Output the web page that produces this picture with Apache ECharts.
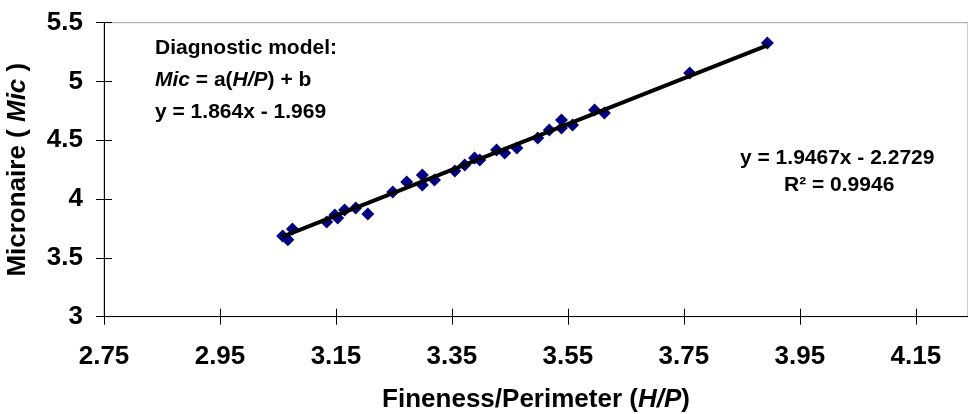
<!DOCTYPE html>
<html>
<head>
<meta charset="utf-8">
<script src="https://cdn.jsdelivr.net/npm/echarts@6/dist/echarts.min.js"></script>
<style>html,body{margin:0;padding:0;background:#fff;}#c{width:968px;height:414px;}</style>
</head>
<body>
<div id="c"></div>
<script>
// Fineness/Perimeter (H/P) values
const hp = [3.058,3.067,3.075,3.134,3.148,3.153,3.165,3.184,3.205,3.248,3.272,3.299,3.299,3.320,3.355,3.372,3.389,3.398,3.427,3.441,3.462,3.498,3.518,3.539,3.539,3.558,3.596,3.613,3.760,3.894];
// Micronaire values
const mic = [3.686,3.655,3.746,3.805,3.865,3.840,3.907,3.925,3.873,4.060,4.145,4.205,4.120,4.162,4.239,4.290,4.350,4.333,4.418,4.392,4.435,4.520,4.588,4.673,4.605,4.631,4.758,4.732,5.072,5.327];
// Trendline coefficients (displayed fit)
const slope = 1.9467;
const intercept = -2.2729;
// Tick labels
const xTicks = [2.75,2.95,3.15,3.35,3.55,3.75,3.95,4.15];
const yTicks = [3,3.5,4,4.5,5,5.5];

const points = hp.map((x,i)=>[x,mic[i]]);
const xMinD = Math.min(...hp), xMaxD = Math.max(...hp);
const trend = [[xMinD, slope*xMinD+intercept],[xMaxD, slope*xMaxD+intercept]];

const FONT = '"Liberation Sans", Arial, sans-serif';
const chart = echarts.init(document.getElementById('c'));
chart.setOption({
  animation: false,
  backgroundColor: '#ffffff',
  grid: {left: 104, top: 22.7, right: 0, bottom: 97.3, containLabel: false, outerBoundsMode: 'none',
         show: true, borderColor: '#a0a0a0', borderWidth: 1, backgroundColor: 'transparent'},
  xAxis: [{
    type: 'value', min: 2.75, max: 4.24,
    splitLine: {show: false},
    axisLine: {show: true, lineStyle: {color: '#000', width: 1}},
    axisTick: {show: true, length: 8, lineStyle: {color: '#000'}, customValues: xTicks},
    axisLabel: {customValues: xTicks, margin: 27, color: '#000', fontFamily: FONT, fontWeight: 'bold', fontSize: 26, formatter: v => String(v)},
    name: '{b|Fineness/Perimeter (}{i|H/P}{b|)}',
    nameLocation: 'middle', nameGap: 70,
    nameTextStyle: {rich: {
      b: {fontFamily: FONT, fontWeight: 'bold', fontSize: 26, color: '#000'},
      i: {fontFamily: FONT, fontWeight: 'bold', fontStyle: 'italic', fontSize: 26, color: '#000'}
    }}
  },{
    type: 'value', min: 2.75, max: 4.24, position: 'bottom',
    splitLine: {show: false}, axisLine: {show: false}, axisLabel: {show: false},
    axisTick: {show: true, inside: true, length: 8, lineStyle: {color: '#000'}, customValues: xTicks}
  }],
  yAxis: [{
    type: 'value', min: 3, max: 5.5, interval: 0.5,
    splitLine: {show: false},
    axisLine: {show: true, lineStyle: {color: '#000', width: 1}},
    axisTick: {show: true, length: 8, lineStyle: {color: '#000'}},
    axisLabel: {margin: 21, color: '#000', fontFamily: FONT, fontWeight: 'bold', fontSize: 26},
    name: '{b|Micronaire ( }{i|Mic}{b| )}',
    nameLocation: 'middle', nameGap: 73, nameRotate: 90,
    nameTextStyle: {rich: {
      b: {fontFamily: FONT, fontWeight: 'bold', fontSize: 26, color: '#000'},
      i: {fontFamily: FONT, fontWeight: 'bold', fontStyle: 'italic', fontSize: 26, color: '#000'}
    }}
  },{
    type: 'value', min: 3, max: 5.5, interval: 0.5, position: 'left',
    splitLine: {show: false}, axisLine: {show: false}, axisLabel: {show: false},
    axisTick: {show: true, inside: true, length: 8, lineStyle: {color: '#000'}}
  }],
  series: [{
    type: 'scatter', data: points, symbol: 'diamond', symbolSize: 13,
    itemStyle: {color: '#000080', opacity: 1}, z: 2
  },{
    type: 'line', data: trend, symbol: 'none', lineStyle: {color: '#000', width: 4}, z: 3
  }],
  graphic: [{
    type: 'text', left: 155, top: 38, z: 10,
    style: {
      text: '{b|Diagnostic model:}\n{i|Mic}{b| = a(}{i|H/P}{b|) + b}\n{b|y = 1.864x - 1.969}',
      rich: {
        b: {fontFamily: FONT, fontWeight: 'bold', fontSize: 21, lineHeight: 32, fill: '#000'},
        i: {fontFamily: FONT, fontWeight: 'bold', fontStyle: 'italic', fontSize: 21, lineHeight: 32, fill: '#000'}
      }
    }
  },{
    type: 'text', left: 740, top: 148, z: 10,
    style: {text: 'y = 1.9467x - 2.2729', fontFamily: FONT, fontWeight: 'bold', fontSize: 21, fill: '#000'}
  },{
    type: 'text', left: 784, top: 175, z: 10,
    style: {text: 'R² = 0.9946', fontFamily: FONT, fontWeight: 'bold', fontSize: 21, fill: '#000'}
  }]
});
</script>
</body>
</html>
